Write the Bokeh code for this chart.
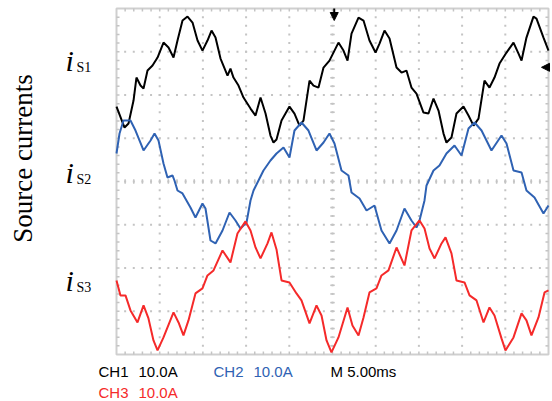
import numpy as np
from bokeh.plotting import figure
from bokeh.models import Range1d, Label, Arrow, NormalHead
from bokeh.embed import file_html
from bokeh.resources import INLINE

# ---- data (time in ms, current in A) ----
t1 = [0, 0.93, 1.39, 1.97, 2.31, 2.78, 3.13, 3.59, 4.17, 4.75, 5.44, 6.02, 6.60, 7.06, 7.64, 8.22,
      8.80, 9.38, 9.95, 10.53, 11.00, 11.46, 12.04, 12.85, 13.19, 13.54, 14.12, 14.70, 15.51, 16.09,
      16.67, 17.25, 17.82, 18.17, 18.52, 19.10, 20.02, 20.60, 21.18, 21.64, 22.34, 22.80, 23.38,
      23.96, 24.65, 25.69, 26.27, 26.74, 27.20, 28.01, 28.59, 29.28, 29.98, 30.44, 31.02, 31.60,
      32.41, 32.99, 33.56, 34.14, 34.72, 35.53, 36.11, 36.69, 37.27, 37.85, 38.19, 38.77, 39.35,
      40.16, 40.74, 41.32, 41.90, 42.59, 43.17, 43.75, 44.33, 45.14, 45.95, 46.53, 46.88, 47.45,
      48.26, 48.61, 49.42, 50.0]
i1 = [-6.47, -11.33, -10.40, -5.09, 0.23, -1.62, -2.31, 1.85, 3.01, 4.86, 8.32, 7.17, 4.86, 8.79,
      13.41, 14.33, 12.95, 8.79, 6.47, 8.79, 11.10, 9.48, 4.62, 0.69, 2.31, 0.23, -1.62, -4.39,
      -6.94, -8.55, -4.39, -8.09, -13.18, -14.80, -14.10, -9.71, -6.47, -8.09, -10.87, -9.71, -0.46,
      -1.62, -2.08, 2.54, 4.16, 8.32, 6.47, 4.16, 10.40, 14.10, 13.41, 8.79, 6.01, 8.09, 11.10,
      9.25, 2.54, 1.39, 1.85, -2.08, -3.47, -7.86, -8.09, -4.62, -7.40, -12.72, -14.80, -13.64,
      -8.09, -6.47, -8.55, -10.87, -9.25, -0.46, -2.08, 0.23, 3.47, 6.01, 8.32, 5.78, 4.16, 9.48,
      14.33, 13.87, 9.48, 6.47]

t2 = [0, 0.35, 0.81, 1.62, 2.20, 3.13, 3.94, 4.40, 4.86, 5.44, 5.90, 6.48, 6.71, 7.06, 7.64, 8.56,
      9.14, 9.95, 10.30, 10.88, 11.46, 12.27, 13.08, 13.77, 14.35, 15.05, 15.51, 15.86, 17.01,
      17.82, 18.52, 19.33, 20.02, 20.60, 21.41, 22.22, 23.15, 23.96, 24.65, 25.23, 26.04, 26.85,
      27.20, 28.13, 28.94, 29.86, 30.67, 31.60, 32.41, 33.33, 34.14, 34.72, 35.07, 35.65, 35.88,
      36.69, 37.38, 38.19, 39.12, 39.93, 40.74, 41.44, 42.25, 43.40, 44.56, 45.14, 45.95, 46.88,
      47.45, 48.38, 49.42, 50.0]
i2 = [6.47, 11.10, 14.10, 14.10, 11.79, 7.17, 9.48, 11.10, 9.48, 4.16, 0.92, 1.39, 0.23, -2.08,
      -2.77, -6.01, -8.32, -5.09, -6.24, -13.64, -14.33, -11.33, -7.17, -9.02, -10.87, -9.48,
      -4.39, -2.08, 2.54, 4.86, 6.47, 7.86, 5.55, 11.79, 13.64, 11.79, 7.17, 9.02, 11.10, 8.79,
      2.54, 1.39, -2.54, -3.93, -6.70, -5.55, -11.33, -14.33, -11.33, -6.24, -9.02, -10.64, -9.02,
      -4.39, -0.92, 2.54, 3.70, 6.47, 8.32, 6.01, 12.25, 13.64, 11.79, 7.17, 10.64, 8.79, 2.54,
      2.08, -2.08, -3.70, -7.40, -5.55]

t3 = [0, 0.46, 1.04, 1.62, 2.43, 3.13, 3.70, 4.28, 4.75, 5.44, 6.60, 7.18, 7.75, 8.33, 9.14, 9.95,
      10.53, 11.23, 12.27, 13.19, 14.00, 14.93, 15.51, 16.09, 16.67, 17.48, 17.94, 18.52, 19.10,
      20.02, 20.83, 21.41, 22.34, 23.15, 23.73, 24.31, 24.88, 25.69, 26.74, 27.31, 28.01, 28.59,
      29.28, 30.09, 30.67, 31.48, 32.41, 33.33, 34.14, 35.07, 35.65, 36.23, 36.81, 37.62, 38.08,
      38.77, 39.35, 40.28, 40.86, 41.67, 42.48, 43.17, 43.75, 44.56, 45.02, 45.95, 46.88, 47.45,
      48.03, 48.84, 49.54, 50.0]
i3 = [0.92, -2.54, -2.54, -6.01, -8.79, -4.86, -7.86, -12.95, -15.26, -12.25, -6.47, -8.79,
      -11.79, -8.32, -2.08, -0.92, 2.08, 3.24, 7.86, 5.09, 11.79, 14.57, 12.48, 8.55, 6.01, 9.48,
      12.02, 8.09, 0.92, 0.46, -2.08, -3.70, -9.02, -4.86, -7.17, -12.95, -15.72, -12.25, -5.32,
      -9.48, -11.79, -7.63, -1.85, -0.92, 2.08, 3.24, 8.55, 4.39, 12.48, 14.80, 12.95, 8.32, 6.01,
      9.48, 10.87, 7.17, 0.92, 0.46, -2.54, -3.70, -8.79, -5.32, -7.17, -12.48, -15.26, -12.25,
      -6.70, -8.32, -11.79, -7.63, -1.85, -1.39]

amps_per_div = [10.0, 10.0, 10.0]       # A/div for CH1..CH3
positions = [2.38, 0.0, -2.38]          # channel position, divisions
trace_colors = ["#000000", "#2f62b3", "#f52a2a"]
trigger_time = 25.2                      # ms
trigger_level = 2.64                     # div

T_DIV, N_XDIV, N_YDIV = 5.0, 10, 8       # 5 ms/div

GRID = "#c4c4c4"
XMAX = T_DIV * N_XDIV
top, bot = N_YDIV / 2, -N_YDIV / 2

# graticule geometry in pixels on the canvas
W, H = 550, 399
FL, FT, FW, FH = 116, 8, 432, 346

def dxp(px):  # pixel column -> time
    return (px - FL) * XMAX / FW
def dyp(py):  # pixel row -> divisions
    return top - (py - FT) * N_YDIV / FH

p = figure(width=W, height=H, x_range=Range1d(dxp(0), dxp(W)),
           y_range=Range1d(dyp(H), dyp(0)),
           x_axis_type=None, y_axis_type=None, toolbar_location=None,
           output_backend="svg", min_border=0)
p.outline_line_color = None
p.background_fill_color = "white"
p.border_fill_color = "white"

# graticule border
p.quad(left=[0], right=[XMAX], bottom=[bot], top=[top], fill_color=None,
       line_color="#cfcfcf", line_width=2)

# dotted graticule (one dot every 1/5 division)
xmin = np.arange(1, N_XDIV * 5) * (T_DIV / 5)
ymin = np.arange(1, N_YDIV * 5) * 0.2 + bot
xt = np.arange(1, N_XDIV) * T_DIV
yt = np.arange(1, N_YDIV) + bot
gx = np.concatenate([np.repeat(xt, len(ymin)), np.tile(xmin, len(yt))])
gy = np.concatenate([np.tile(ymin, len(xt)), np.repeat(yt, len(xmin))])
p.scatter(gx, gy, marker="square", size=2, fill_color=GRID, line_color=None)

# minor tick marks on border and on centre cross
dx = 3 * XMAX / FW
dy = 3 * N_YDIV / FH
cx = XMAX / 2
x0s = np.concatenate([xmin, xmin, np.zeros_like(ymin), np.full_like(ymin, XMAX),
                      xmin, np.full_like(ymin, cx - 0.75 * dx)])
x1s = np.concatenate([xmin, xmin, np.full_like(ymin, dx), np.full_like(ymin, XMAX - dx),
                      xmin, np.full_like(ymin, cx + 0.75 * dx)])
y0s = np.concatenate([np.full_like(xmin, top), np.full_like(xmin, bot), ymin, ymin,
                      np.full_like(xmin, -0.75 * dy), ymin])
y1s = np.concatenate([np.full_like(xmin, top - dy), np.full_like(xmin, bot + dy), ymin, ymin,
                      np.full_like(xmin, 0.75 * dy), ymin])
p.segment(x0s, y0s, x1s, y1s, line_color=GRID, line_width=1.5)

# traces
for t, i, k in ((t1, i1, 0), (t2, i2, 1), (t3, i3, 2)):
    y = positions[k] + np.array(i) / amps_per_div[k]
    p.line(t, y, line_color=trace_colors[k], line_width=2)

# markers
p.add_layout(Arrow(end=NormalHead(size=8, fill_color="black", line_color="black"),
                   x_start=trigger_time, y_start=dyp(8), x_end=trigger_time,
                   y_end=dyp(20), line_color="black", line_width=2))
p.add_layout(Arrow(end=NormalHead(size=8, fill_color="black", line_color="black"),
                   x_start=dxp(550), y_start=trigger_level,
                   x_end=dxp(541), y_end=trigger_level,
                   line_color="black", line_width=2))

def lab(text, px, py, size, color="black", font="Liberation Sans", style="normal", angle=0, align="left"):
    p.add_layout(Label(x=dxp(px), y=dyp(py), text=text,
                       text_font=font, text_font_size=f"{size}px", text_color=color,
                       text_font_style=style, angle=angle, text_align=align,
                       text_baseline="alphabetic"))

lab("Source currents", 22, 158, 27, font="Liberation Serif", angle=np.pi / 2, align="center")
for (yb, sub) in ((60, "S1"), (172, "S2"), (280, "S3")):
    lab("i", 65, yb, 30, font="Liberation Serif", style="italic")
    lab(sub, 76, yb + 6.5, 14, font="Liberation Serif")

lab("CH1", 98, 371, 15)
lab("10.0A", 138, 371, 15)
lab("CH2", 213, 371, 15, color=trace_colors[1])
lab("10.0A", 253, 371, 15, color=trace_colors[1])
lab("M 5.00ms", 330, 371, 15)
lab("CH3", 98, 392, 15, color=trace_colors[2])
lab("10.0A", 138, 392, 15, color=trace_colors[2])

open("out.html", "w").write(file_html(p, INLINE))
